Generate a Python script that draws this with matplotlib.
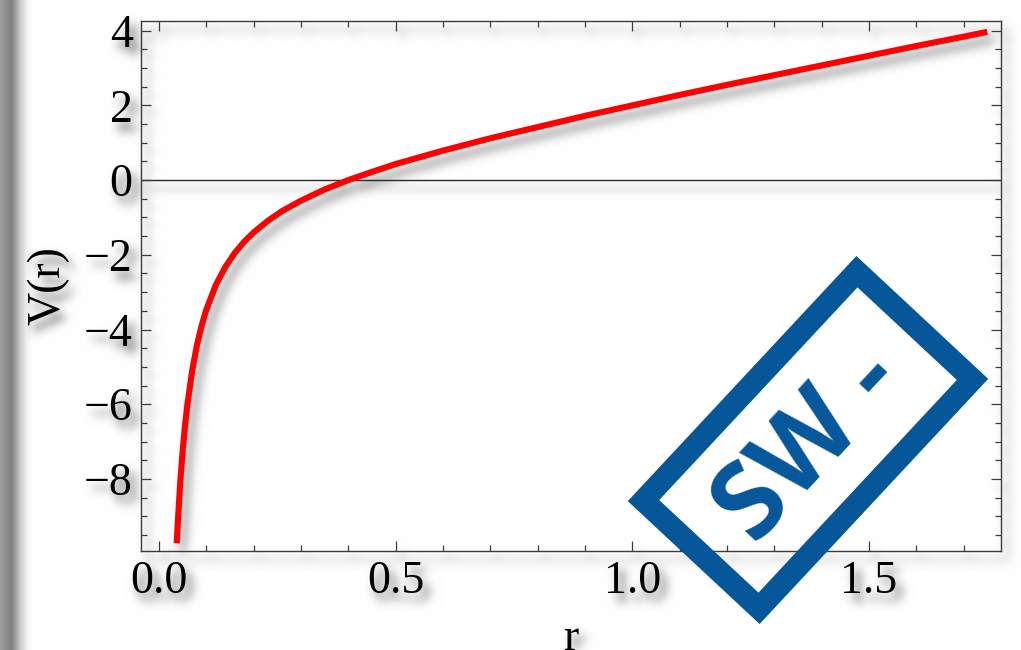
import numpy as np
import matplotlib
matplotlib.use("Agg")
import matplotlib.pyplot as plt
from matplotlib.ticker import FixedLocator, MultipleLocator, FixedFormatter
from matplotlib.patches import Rectangle
import matplotlib.transforms as mtransforms

# ---------------- data ----------------
r_values = [0.0375, 0.040, 0.045, 0.050, 0.055, 0.060, 0.070, 0.080, 0.090, 0.100,
            0.120, 0.140, 0.160, 0.180, 0.200, 0.230, 0.260, 0.300, 0.350, 0.400,
            0.450, 0.500, 0.600, 0.700, 0.800, 0.900, 1.000, 1.100, 1.200, 1.300,
            1.400, 1.500, 1.600, 1.700, 1.750]
v_values = [-9.72, -9.11, -8.08, -7.25, -6.57, -6.01, -5.11, -4.43, -3.90, -3.47,
            -2.81, -2.33, -1.95, -1.65, -1.40, -1.09, -0.83, -0.55, -0.25, 0.00,
            0.22, 0.43, 0.79, 1.12, 1.42, 1.72, 2.00, 2.28, 2.55, 2.81,
            3.07, 3.33, 3.59, 3.84, 3.97]
x_ticks = [0.0, 0.5, 1.0, 1.5]
x_tick_labels = ["0.0", "0.5", "1.0", "1.5"]
y_ticks = [-8, -6, -4, -2, 0, 2, 4]
y_tick_labels = ["\u22128", "\u22126", "\u22124", "\u22122", "0", "2", "4"]
x_label = "r"
y_label = "V(r)"
stamp_text = "SW -"

# ---------------- figure ----------------
W, H, DPI = 1021, 650, 100
plt.rcParams["font.family"] = ["Liberation Serif", "DejaVu Serif"]

fig = plt.figure(figsize=(W / DPI, H / DPI), dpi=DPI)
fig.patch.set_facecolor("white")
ax = fig.add_axes([141 / W, 1 - 551 / H, 860 / W, 530 / H])
ax.set_facecolor("none")
ax.set_xlim(-0.038, 1.779)
ax.set_ylim(-9.93, 4.26)

ax.axhline(0, color="#2a2a2a", lw=1.0, zorder=1)
ax.plot(r_values, v_values, color="#ff0000", lw=4.4,
        solid_capstyle="butt", solid_joinstyle="round", zorder=3)

ax.xaxis.set_major_locator(FixedLocator(x_ticks))
ax.xaxis.set_major_formatter(FixedFormatter(x_tick_labels))
ax.xaxis.set_minor_locator(MultipleLocator(0.1))
ax.yaxis.set_major_locator(FixedLocator(y_ticks))
ax.yaxis.set_major_formatter(FixedFormatter(y_tick_labels))
ax.yaxis.set_minor_locator(MultipleLocator(0.5))

for s in ax.spines.values():
    s.set_color("#3c3c3c")
    s.set_linewidth(1.0)

ax.tick_params(which="both", direction="in", top=True, right=True,
               color="#3c3c3c", width=0.9, labelsize=33, labelcolor="black")
ax.tick_params(which="major", length=7.2)
ax.tick_params(which="minor", length=4.3)
ax.tick_params(axis="x", which="major", pad=7)
ax.tick_params(axis="y", which="major", pad=6)

ax.set_xlabel(x_label, fontsize=33, labelpad=10)
ax.set_ylabel(y_label, fontsize=33, labelpad=10)

# ---------------- soft drop shadow (background raster) ----------------
fig.canvas.draw()
buf = np.asarray(fig.canvas.buffer_rgba()).astype(float) / 255.0
dark = 1.0 - buf[..., :3].mean(axis=2)
dx, dy = 6, 8
sh = np.zeros_like(dark)
sh[dy:, dx:] = dark[:-dy, :-dx]
sigma = 5
k = np.arange(-3 * sigma, 3 * sigma + 1)
kern = np.exp(-k ** 2 / (2.0 * sigma ** 2))
kern /= kern.sum()
sh = np.apply_along_axis(lambda m: np.convolve(m, kern, mode="same"), 0, sh)
sh = np.apply_along_axis(lambda m: np.convolve(m, kern, mode="same"), 1, sh)
shade = 1.0 - 0.65 * np.clip(sh, 0, 1)

cols = np.arange(shade.shape[1])
edge = np.interp(cols, [0, 6, 11, 15, 20, 26, 32],
                 [0.62, 0.56, 0.50, 0.62, 0.80, 0.94, 1.0])
shade = shade * edge[None, :]
img = np.dstack([shade, shade, shade])
fig.figimage(img, xo=0, yo=0, origin="upper", zorder=-5)

# ---------------- stamp watermark ----------------
stamp_color = "#05579a"
cx, cy = 808 / DPI, (H - 440) / DPI
rect_w, rect_h = 3.13, 1.58
stamp_tr = mtransforms.Affine2D().rotate_deg(47).translate(cx, cy) + fig.dpi_scale_trans
rect = Rectangle((-rect_w / 2, -rect_h / 2), rect_w, rect_h, fill=False,
                 ec=stamp_color, lw=16, joinstyle="miter", transform=stamp_tr)
fig.add_artist(rect)
fig.text(810 / W, 1 - 446 / H, stamp_text, rotation=47, rotation_mode="anchor",
         ha="center", va="center", fontsize=76, fontweight="bold",
         family=["Open Sans", "DejaVu Sans"], color=stamp_color)

fig.savefig("out.png", dpi=DPI, facecolor="white")
